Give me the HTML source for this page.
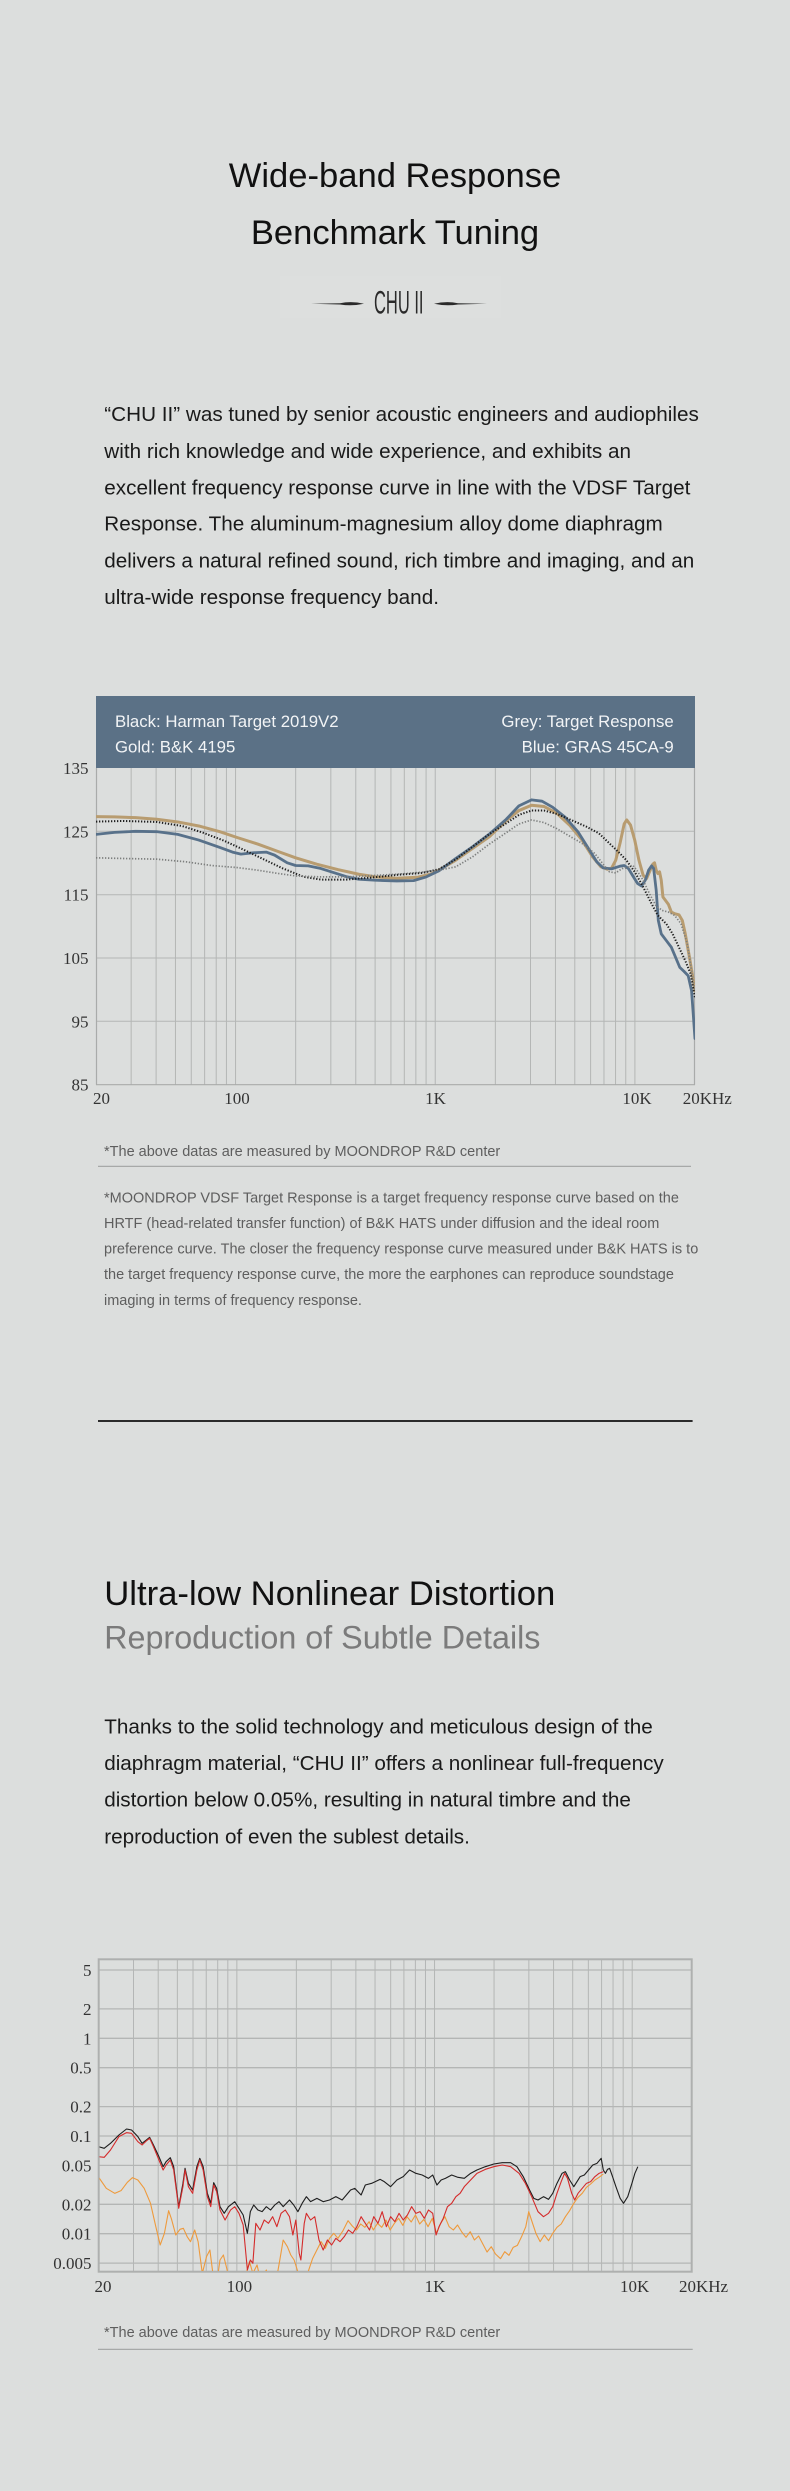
<!DOCTYPE html>
<html>
<head>
<meta charset="utf-8">
<style>
html,body{margin:0;padding:0;background:#dcdedd;}
svg{display:block;}
.sans{font-family:"Liberation Sans",Arial,sans-serif;}
.serif{font-family:"Liberation Serif","Times New Roman",serif;}
</style>
</head>
<body>
<svg width="790" height="2491" viewBox="0 0 790 2491" xmlns="http://www.w3.org/2000/svg">
<defs>
<clipPath id="c1"><rect x="96" y="768" width="599" height="317"/></clipPath>
<clipPath id="c2"><rect x="99.5" y="1960" width="591.5" height="311"/></clipPath>
</defs>
<rect x="0" y="0" width="790" height="2491" fill="#dcdedd"/>

<!-- Title -->
<g class="sans" fill="#111" font-size="34.6" text-anchor="middle">
<text x="395" y="187">Wide-band Response</text>
<text x="395" y="244">Benchmark Tuning</text>
</g>

<!-- Logo -->
<rect x="280" y="276" width="221" height="42" fill="#dddfde"/>
<g fill="#2a2a2a">
<path d="M311,303.8 L340,303.2 Q352,300.9 364,303.8 Q352,306.4 340,304.5 Z"/>
<path d="M487,303.8 L458,303.2 Q446,300.9 434,303.8 Q446,306.4 458,304.5 Z"/>
</g>
<text class="sans" x="374" y="313.3" font-size="32.5" textLength="49.5" lengthAdjust="spacingAndGlyphs" fill="#2a2a2a">CHU II</text>

<!-- Paragraph 1 -->
<g class="sans" fill="#1a1a1a" font-size="20.7">
<text x="104.3" y="421">“CHU II” was tuned by senior acoustic engineers and audiophiles</text>
<text x="104.3" y="457.8">with rich knowledge and wide experience, and exhibits an</text>
<text x="104.3" y="494.6">excellent frequency response curve in line with the VDSF Target</text>
<text x="104.3" y="530.7">Response. The aluminum-magnesium alloy dome diaphragm</text>
<text x="104.3" y="567.6">delivers a natural refined sound, rich timbre and imaging, and an</text>
<text x="104.3" y="604">ultra-wide response frequency band.</text>
</g>

<!-- Chart 1 -->
<rect x="96" y="696" width="599" height="72" fill="#5b7186"/>
<g class="sans" fill="#f2f4f6" font-size="16.8">
<text x="115" y="727">Black: Harman Target 2019V2</text>
<text x="115" y="752.3">Gold: B&amp;K 4195</text>
<text x="673.7" y="727" text-anchor="end">Grey: Target Response</text>
<text x="673.7" y="752.3" text-anchor="end">Blue: GRAS 45CA-9</text>
</g>
<g stroke="#b4b6b5" stroke-width="1" fill="none">
<path d="M96,831.3H695 M96,894.7H695 M96,958H695 M96,1021.3H695"/>
<path d="M131.16,768V1084.7 M156.11,768V1084.7 M175.46,768V1084.7 M191.27,768V1084.7 M204.63,768V1084.7 M216.21,768V1084.7 M226.43,768V1084.7 M235.56,768V1084.7 M295.67,768V1084.7 M330.83,768V1084.7 M355.77,768V1084.7 M375.12,768V1084.7 M390.93,768V1084.7 M404.3,768V1084.7 M415.87,768V1084.7 M426.08,768V1084.7 M435.23,768V1084.7 M495.34,768V1084.7 M530.5,768V1084.7 M555.44,768V1084.7 M574.79,768V1084.7 M590.6,768V1084.7 M603.97,768V1084.7 M615.54,768V1084.7 M625.76,768V1084.7 M634.9,768V1084.7"/>
</g>
<g stroke="#a9abaa" stroke-width="1.2" fill="none">
<path d="M96.5,768V1084.7 M694.5,768V1084.7 M96,1084.7H695"/>
</g>
<g clip-path="url(#c1)">
<g transform="translate(59.78,679.2) scale(0.4212,0.3351)" fill="none" stroke-linejoin="round" stroke-linecap="round">
<polyline vector-effect="non-scaling-stroke" stroke="#b89c70" stroke-width="3" points="86,410 130,411 180,413 230,418 280,426 330,438 380,455 420,472 470,492 520,515 560,533 610,552 660,568 710,582 750,590 800,594 850,591 880,582 900,570 940,540 980,505 1020,470 1060,422 1090,392 1120,376 1150,380 1180,400 1210,435 1240,480 1265,530 1285,560 1300,567 1310,564 1320,540 1330,490 1340,432 1346,420 1355,435 1365,480 1375,540 1385,585 1393,595 1400,575 1408,552 1412,548 1416,570 1420,580 1424,575 1428,600 1432,650 1438,660 1445,672 1452,695 1460,700 1470,703 1478,720 1485,760 1495,830 1503,890 1508,930"/>
<polyline vector-effect="non-scaling-stroke" stroke="#58718a" stroke-width="2.8" points="86,463 130,457 180,454 230,455 280,463 330,480 380,502 410,516 430,522 460,518 490,516 510,525 540,548 560,556 590,557 620,565 650,577 680,589 710,597 750,600 800,602 840,601 870,590 900,572 940,535 980,500 1020,462 1060,418 1090,378 1120,360 1145,364 1170,382 1200,412 1230,455 1255,505 1275,545 1290,563 1310,566 1330,558 1340,556 1350,565 1362,590 1372,610 1381,617 1390,600 1398,570 1405,557 1410,565 1416,630 1421,720 1428,760 1440,780 1452,800 1462,830 1472,860 1482,872 1492,885 1500,930 1504,1000 1508,1072"/>
<polyline vector-effect="non-scaling-stroke" stroke="#1f1f1f" stroke-width="2" stroke-linecap="butt" stroke-dasharray="1.3 1.7" points="86,425 150,423 230,426 290,438 340,458 390,482 430,505 480,535 530,565 580,590 620,598 680,598 740,592 800,584 860,578 900,567 940,538 980,500 1020,462 1060,430 1090,405 1120,392 1150,392 1180,402 1210,418 1250,440 1280,460 1305,490 1330,520 1345,540 1365,575 1385,620 1405,670 1420,705 1440,730 1455,760 1470,800 1485,840 1498,880 1508,950"/>
<polyline vector-effect="non-scaling-stroke" stroke="#7d7f7e" stroke-width="1.7" stroke-linecap="butt" stroke-dasharray="1.3 1.7" points="86,533 150,535 230,537 300,545 360,556 420,562 470,570 520,580 560,587 620,590 680,590 740,586 800,582 860,576 900,570 940,560 980,530 1020,492 1060,458 1090,432 1120,420 1150,428 1180,446 1210,468 1240,490 1270,520 1295,560 1305,575 1320,578 1335,565 1346,563 1360,555 1370,570 1385,600 1400,640 1415,675 1430,690 1445,695 1460,705 1475,730 1490,790 1500,870 1508,930"/>
</g>
</g>
<g class="serif" fill="#333" font-size="17" text-anchor="end">
<text x="88.5" y="774">135</text>
<text x="88.5" y="837.3">125</text>
<text x="88.5" y="900.7">115</text>
<text x="88.5" y="964">105</text>
<text x="88.5" y="1027.3">95</text>
<text x="88.5" y="1090.7">85</text>
</g>
<g class="serif" fill="#333" font-size="17">
<text x="93" y="1104">20</text>
<text x="237" y="1104" text-anchor="middle">100</text>
<text x="435.5" y="1104" text-anchor="middle">1K</text>
<text x="637" y="1104" text-anchor="middle">10K</text>
<text x="682.7" y="1104">20KHz</text>
</g>

<!-- Notes 1 -->
<g class="sans" fill="#5e5e5e" font-size="14.5">
<text x="104" y="1156">*The above datas are measured by MOONDROP R&amp;D center</text>
<text x="104" y="1202.5">*MOONDROP VDSF Target Response is a target frequency response curve based on the</text>
<text x="104" y="1228">HRTF (head-related transfer function) of B&amp;K HATS under diffusion and the ideal room</text>
<text x="104" y="1253.5">preference curve. The closer the frequency response curve measured under B&amp;K HATS is to</text>
<text x="104" y="1279">the target frequency response curve, the more the earphones can reproduce soundstage</text>
<text x="104" y="1305">imaging in terms of frequency response.</text>
</g>
<rect x="98" y="1165.8" width="593" height="1" fill="#9a9c9b"/>
<rect x="98" y="1420" width="594.6" height="2" fill="#2b2b2b"/>

<!-- Section 2 -->
<text class="sans" x="104.2" y="1605" font-size="34.7" fill="#111">Ultra-low Nonlinear Distortion</text>
<text class="sans" x="104.2" y="1648.3" font-size="32.3" fill="#7b7b7b">Reproduction of Subtle Details</text>
<g class="sans" fill="#1a1a1a" font-size="20.7">
<text x="104.2" y="1733.3">Thanks to the solid technology and meticulous design of the</text>
<text x="104.2" y="1770">diaphragm material, “CHU II” offers a nonlinear full-frequency</text>
<text x="104.2" y="1806.7">distortion below 0.05%, resulting in natural timbre and the</text>
<text x="104.2" y="1843.3">reproduction of even the sublest details.</text>
</g>

<!-- Chart 2 -->
<g stroke="#b4b6b5" stroke-width="1.3" fill="none">
<path d="M98.7,1970H691.7 M98.7,2008.9H691.7 M98.7,2038.3H691.7 M98.7,2067.7H691.7 M98.7,2106.6H691.7 M98.7,2136H691.7 M98.7,2165.4H691.7 M98.7,2204.3H691.7 M98.7,2233.7H691.7 M98.7,2263.1H691.7"/>
<path stroke-width="1" d="M133.51,1959.3V2271.7 M158.2,1959.3V2271.7 M177.36,1959.3V2271.7 M193.01,1959.3V2271.7 M206.24,1959.3V2271.7 M217.71,1959.3V2271.7 M227.82,1959.3V2271.7 M236.86,1959.3V2271.7 M296.37,1959.3V2271.7 M331.18,1959.3V2271.7 M355.87,1959.3V2271.7 M375.03,1959.3V2271.7 M390.68,1959.3V2271.7 M403.91,1959.3V2271.7 M415.38,1959.3V2271.7 M425.49,1959.3V2271.7 M434.53,1959.3V2271.7 M494.04,1959.3V2271.7 M528.85,1959.3V2271.7 M553.54,1959.3V2271.7 M572.7,1959.3V2271.7 M588.35,1959.3V2271.7 M601.58,1959.3V2271.7 M613.05,1959.3V2271.7 M623.16,1959.3V2271.7 M632.2,1959.3V2271.7"/>
</g>
<rect x="98.7" y="1959.3" width="593" height="312.4" fill="none" stroke="#aeb0af" stroke-width="2"/>
<g clip-path="url(#c2)">
<g transform="translate(59.95,1940) scale(0.4212,0.33333)" fill="none" stroke-linejoin="round">
<polyline vector-effect="non-scaling-stroke" stroke="#ee9a3c" stroke-width="1.1" points="92,712 110,745 130,760 145,752 160,727 172,713 185,720 200,745 215,790 228,862 238,915 248,880 258,812 265,838 275,885 285,868 293,865 302,890 310,905 320,870 328,905 338,1000 348,950 356,930 364,1010 372,1030 380,960 388,945 396,985 405,1040 420,1060 440,1010 450,965 458,1000 468,975 476,1020 490,990 500,1040 515,1010 522,960 530,900 540,920 548,945 556,960 566,1000 580,1030 592,985 600,955 610,930 620,905 630,925 640,895 650,880 660,895 672,872 684,842 694,858 704,870 714,852 724,862 734,845 744,870 754,850 764,862 774,840 784,870 794,850 804,835 814,856 824,830 834,846 844,825 854,852 864,838 874,860 884,835 894,880 904,850 914,830 924,860 934,870 944,855 954,876 964,892 974,875 984,900 994,888 1004,912 1014,936 1024,920 1034,942 1046,956 1056,935 1066,946 1076,922 1086,916 1096,890 1106,860 1113,815 1120,842 1130,880 1140,905 1150,885 1160,902 1170,880 1180,862 1190,852 1200,830 1210,812 1220,790 1230,772 1240,760 1250,742 1260,732 1270,720 1280,712 1290,702"/>
<polyline vector-effect="non-scaling-stroke" stroke="#1e1e1e" stroke-width="1.1" points="92,620 105,625 120,610 140,585 158,567 170,570 185,590 195,610 205,600 213,592 222,615 235,650 245,680 252,665 262,653 270,680 282,800 292,730 297,685 305,730 315,750 325,680 332,655 340,680 350,760 358,790 365,728 372,745 380,800 390,820 400,800 415,785 425,805 435,825 445,880 452,815 460,795 470,810 480,815 490,800 500,810 510,795 520,785 530,800 545,780 555,795 565,815 575,790 585,770 595,785 610,775 625,785 640,780 655,770 670,780 690,750 700,745 715,765 725,735 740,730 760,718 770,725 785,740 800,720 815,710 830,690 845,700 860,705 875,715 885,705 895,735 905,720 915,715 930,705 945,712 960,715 975,700 990,690 1010,680 1030,672 1050,668 1070,668 1085,680 1100,710 1115,750 1125,775 1135,780 1148,770 1160,778 1170,760 1180,730 1192,700 1200,695 1210,720 1220,740 1235,710 1245,705 1255,690 1265,675 1275,670 1285,655 1290,690 1295,700 1300,688 1305,685 1312,710 1320,740 1330,775 1338,790 1348,770 1358,730 1365,700 1372,680"/>
<polyline vector-effect="non-scaling-stroke" stroke="#d42b2b" stroke-width="1.1" points="92,650 105,652 120,630 140,590 158,578 170,580 185,605 195,615 205,603 213,595 222,620 235,660 245,690 252,675 262,660 270,690 282,805 292,740 297,690 305,740 315,760 325,690 332,660 340,690 350,770 358,800 365,735 372,755 380,810 392,840 405,810 415,800 425,820 435,855 445,990 452,960 458,970 465,850 475,870 485,840 495,850 505,830 515,860 525,820 535,810 545,830 553,885 560,840 568,940 572,960 580,850 585,820 595,840 605,830 615,900 625,930 635,900 645,915 655,895 665,905 675,890 685,870 695,880 705,860 715,830 725,850 735,870 745,830 755,850 765,815 775,860 785,830 795,845 805,820 815,840 825,825 835,800 845,820 855,815 865,835 875,810 885,820 893,885 900,860 910,835 920,800 930,790 940,770 950,760 960,740 975,720 990,700 1010,688 1030,680 1050,675 1070,680 1090,700 1105,730 1120,770 1135,815 1148,830 1160,820 1170,800 1180,760 1190,725 1198,700 1205,715 1215,760 1222,780 1230,760 1240,745 1250,730 1260,725 1270,710 1280,700 1290,695"/>
</g>
</g>
<g class="serif" fill="#333" font-size="17" text-anchor="end">
<text x="91.5" y="1976">5</text>
<text x="91.5" y="2014.9">2</text>
<text x="91.5" y="2044.3">1</text>
<text x="91.5" y="2073.7">0.5</text>
<text x="91.5" y="2112.6">0.2</text>
<text x="91.5" y="2142">0.1</text>
<text x="91.5" y="2171.4">0.05</text>
<text x="91.5" y="2210.3">0.02</text>
<text x="91.5" y="2239.7">0.01</text>
<text x="91.5" y="2269.1">0.005</text>
</g>
<g class="serif" fill="#333" font-size="17">
<text x="94.5" y="2292">20</text>
<text x="239.4" y="2292" text-anchor="middle">100</text>
<text x="435" y="2292" text-anchor="middle">1K</text>
<text x="634.7" y="2292" text-anchor="middle">10K</text>
<text x="679" y="2292">20KHz</text>
</g>
<text class="sans" x="104" y="2337" font-size="14.5" fill="#5e5e5e">*The above datas are measured by MOONDROP R&amp;D center</text>
<rect x="98" y="2348.8" width="594.7" height="1" fill="#9a9c9b"/>
</svg>
</body>
</html>
